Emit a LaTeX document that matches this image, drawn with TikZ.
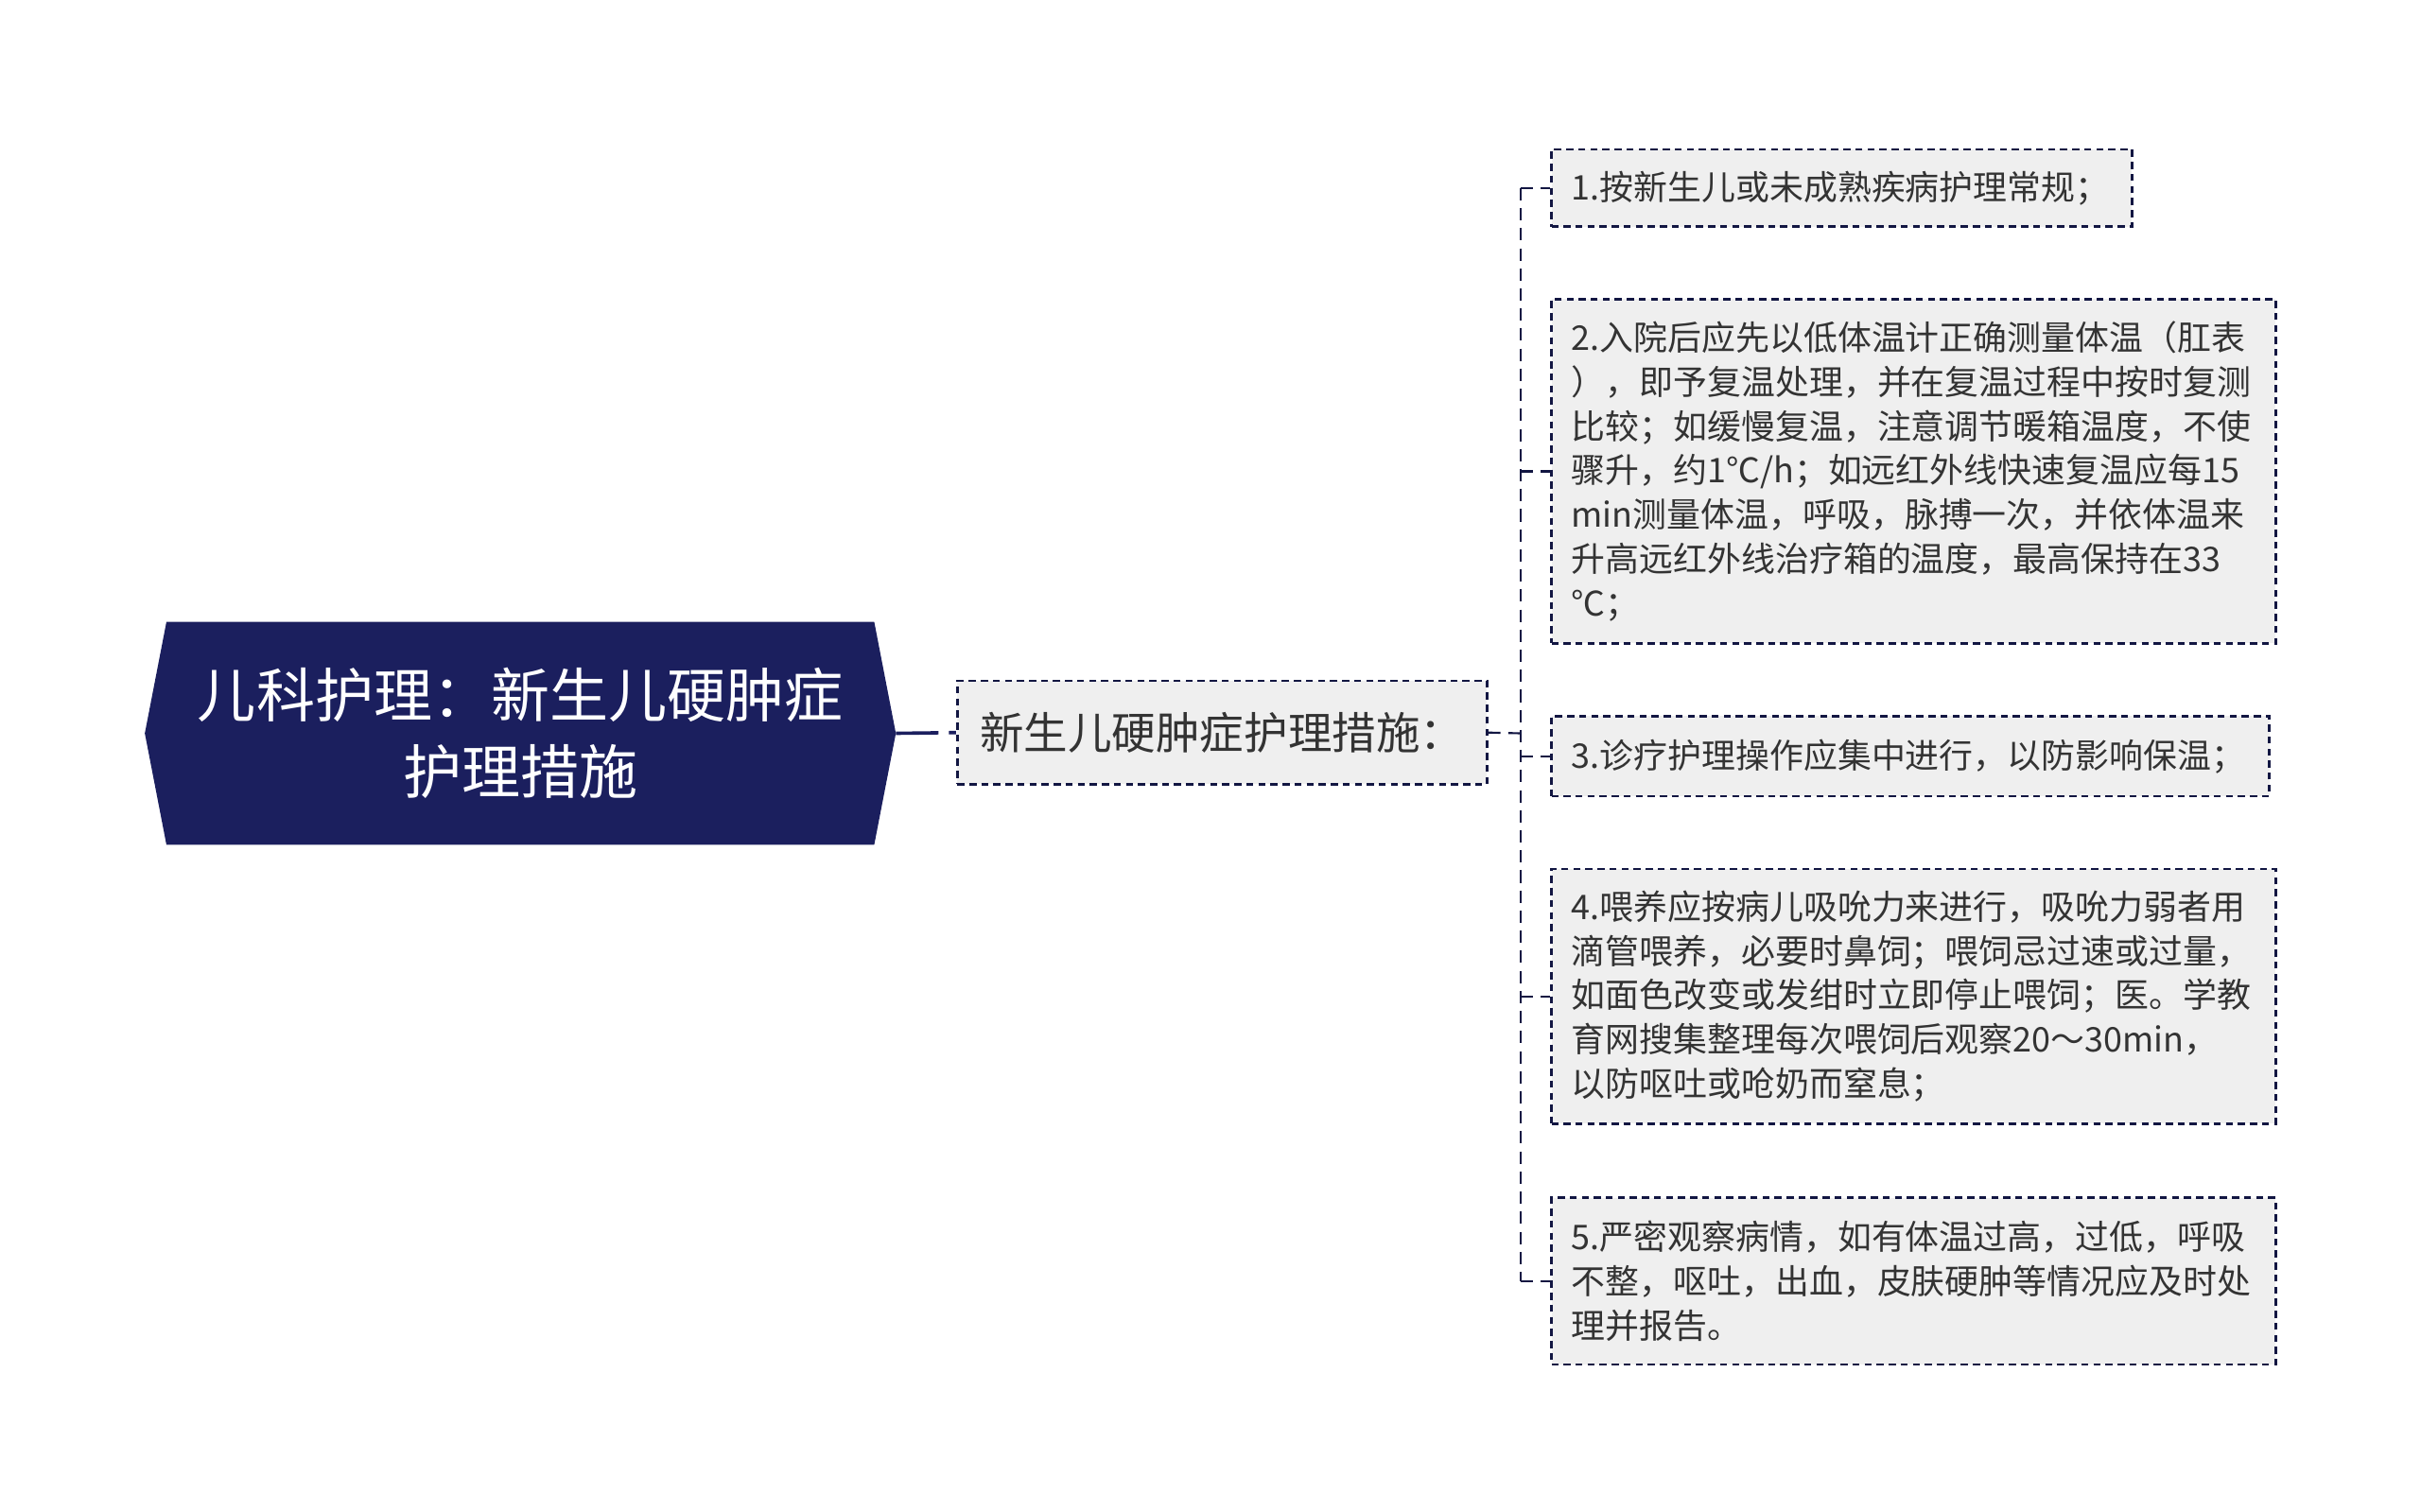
\documentclass[tikz,border=0pt]{standalone}
\usepackage{fontspec}
\setmainfont{Noto Sans CJK SC}
\usetikzlibrary{calc,backgrounds}
\definecolor{navy}{RGB}{27,31,94}
\definecolor{navyline}{RGB}{18,22,66}
\definecolor{boxfill}{RGB}{239,239,239}
\definecolor{txt}{RGB}{51,51,51}
\begin{document}
\begin{tikzpicture}[x=1pt,y=-1pt,
  childbox/.style={draw=navyline, line width=1.6pt, dash pattern=on 4.6pt off 3.2pt,
    fill=boxfill, text=txt, anchor=north west, align=left, inner xsep=13pt,
    inner ysep=0pt, font=\fontsize{22}{28.6}\selectfont},
  midbox/.style={draw=navyline, line width=1.6pt, dash pattern=on 4.6pt off 3.2pt,
    fill=boxfill, text=txt, inner sep=0pt, font=\fontsize{28.5}{34}\selectfont},
  conn/.style={draw=navyline, line width=1.3pt, dash pattern=on 8pt off 5pt},
  rootconn/.style={draw=navy, line width=2.2pt, dash pattern=on 27.6pt off 6.7pt on 6pt off 0pt}]
\useasboundingbox (0,0) rectangle (1568,979);

% root
\node[text=white, align=center, font=\fontsize{38}{50}\selectfont,
  minimum width=458pt, minimum height=144pt, inner sep=0pt] (root) at (337,475)
  {儿科护理：新生儿硬肿症\\护理措施};
\begin{scope}[on background layer]
\fill[navy] (root.north west) -- (root.north east) -- ($(root.east)+(14,0)$)
  -- (root.south east) -- (root.south west) -- ($(root.west)+(-14,0)$) -- cycle;
\end{scope}
\coordinate (roottip) at ($(root.east)+(14,0)$);

% middle
\node[midbox, minimum width=343pt, minimum height=67pt] (mid) at (791.5,474.5)
  {新生儿硬肿症护理措施：};

% children
\node[childbox, text width=350pt, minimum height=50pt] (c1) at (1004,96)
  {1.按新生儿或未成熟疾病护理常规；};
\node[childbox, text width=443pt, minimum height=223pt] (c2) at (1004,193)
  {2.入院后应先以低体温计正确测量体温（肛表\\
   ），即予复温处理，并在复温过程中按时复测\\
   比较；如缓慢复温，注意调节暖箱温度，不使\\
   骤升，约1℃/h；如远红外线快速复温应每15\\
   min测量体温，呼吸，脉搏一次，并依体温来\\
   升高远红外线治疗箱的温度，最高保持在33\\
   ℃；};
\node[childbox, text width=439pt, minimum height=52pt] (c3) at (1004,463)
  {3.诊疗护理操作应集中进行，以防影响保温；};
\node[childbox, text width=443pt, minimum height=165pt] (c4) at (1004,562)
  {4.喂养应按病儿吸吮力来进行，吸吮力弱者用\\
   滴管喂养，必要时鼻饲；喂饲忌过速或过量，\\
   如面色改变或发绀时立即停止喂饲；医。学教\\
   育网搜集整理每次喂饲后观察20～30min，\\
   以防呕吐或呛奶而窒息；};
\node[childbox, text width=443pt, minimum height=108pt] (c5) at (1004,775)
  {5.严密观察病情，如有体温过高，过低，呼吸\\
   不整，呕吐，出血，皮肤硬肿等情况应及时处\\
   理并报告。};

% connectors
\draw[rootconn] (roottip) -- (mid.west);
\coordinate (bus) at (985,475);
\draw[conn] (mid.east) -- (bus);
\draw[conn] (bus |- c1.west) -- (bus |- c5.west);
\foreach \c in {c1,c2,c3,c4,c5}
  \draw[conn] (bus |- \c.west) -- (\c.west);
\end{tikzpicture}
\end{document}
